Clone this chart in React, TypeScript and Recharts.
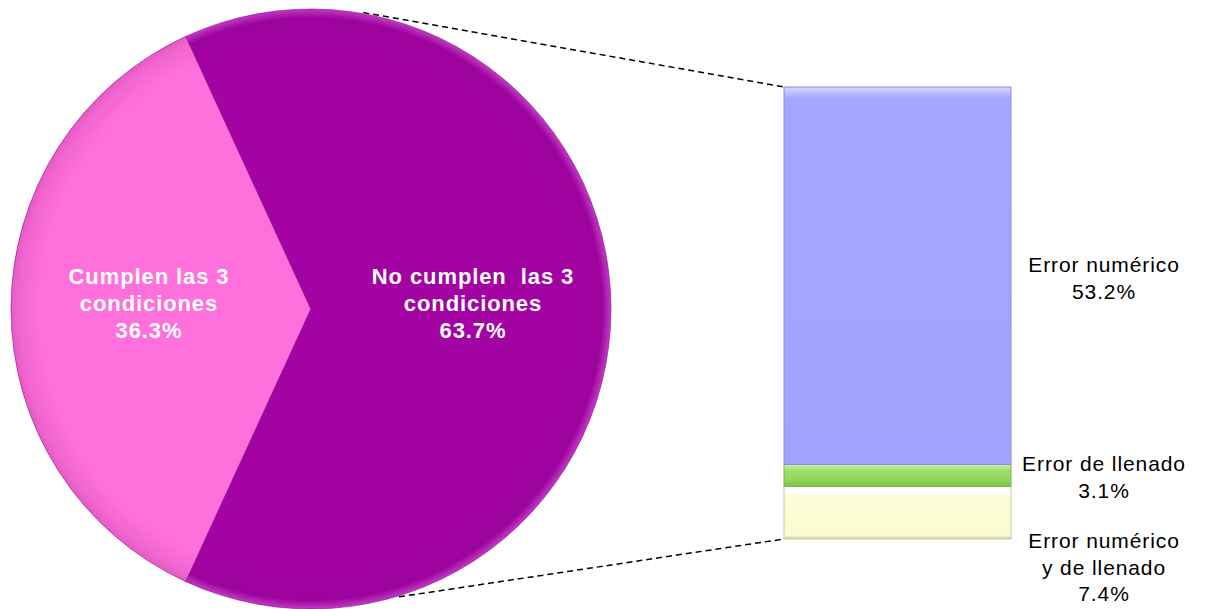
import { PieChart, Pie, Cell, BarChart, Bar, XAxis, YAxis, LabelList } from 'recharts';

// pie: share of records meeting the 3 conditions
const pieNames = ['Cumplen las 3 condiciones', 'No cumplen las 3 condiciones'];
const pieValues = [36.3, 63.7];
const pieLabelLines = [
  ['Cumplen las 3', 'condiciones'],
  ['No cumplen  las 3', 'condiciones'],
];

// bar: breakdown of "No cumplen", bottom to top
const barKeys = ['mixto', 'llenado', 'numerico'];
const barNames = ['Error numérico y de llenado', 'Error de llenado', 'Error numérico'];
const barValues = [7.4, 3.1, 53.2];
const barLabelLines = [['Error numérico', 'y de llenado'], ['Error de llenado'], ['Error numérico']];

const pieData = pieNames.map((name, i) => ({ name, value: pieValues[i] }));
const barRow: Record<string, number | string> = { name: 'No cumplen' };
barKeys.forEach((k, i) => (barRow[k] = barValues[i]));
const barData = [barRow];
const barTotal = barValues.reduce((a, b) => a + b, 0);

const W = 1207;
const H = 609;
const PIE_CX = 311;
const PIE_CY = 309;
const PIE_R = 300;
const BAR_LEFT = 784;
const BAR_RIGHT = 1011;
const BAR_TOP = 87;
const BAR_BOTTOM = 539;
const BAR_CHART_X = 700;
const FONT = '"Liberation Sans", Arial, sans-serif';

const pieColors = ['url(#gPink)', 'url(#gPurple)'];
const barFills = ['url(#gYellow)', 'url(#gGreen)', 'url(#gBlue)'];
const barStrokes = ['#c9c9a0', '#7cb548', '#8a8ae0'];
// Excel nudged the bottom label down to clear the one above it
const labelShift = [55, 2, 3];

// pie starts so the small slice is centred on the left
const pinkSweep = (pieValues[0] / (pieValues[0] + pieValues[1])) * 360;
const startAngle = 180 - pinkSweep / 2;

const rad = Math.PI / 180;
const edge = (deg: number, r: number) => ({
  x: PIE_CX + r * Math.cos(deg * rad),
  y: PIE_CY - r * Math.sin(deg * rad),
});

function PieLabel(props: any) {
  const { cx, cy, midAngle, outerRadius, index, value } = props;
  const r = outerRadius * 0.54;
  const x = cx + r * Math.cos(-midAngle * rad);
  const y = cy + r * Math.sin(-midAngle * rad) + 2;
  const lines = [...pieLabelLines[index], `${value.toFixed(1)}%`];
  return (
    <text
      x={x}
      y={y}
      textAnchor="middle"
      fill="#fff"
      fontFamily={FONT}
      fontSize={22}
      fontWeight="bold"
      letterSpacing={0.9}
      style={{ whiteSpace: 'pre' }}
    >
      {lines.map((l, i) => (
        <tspan key={i} x={x} y={y + (i - 1) * 27}>
          {l}
        </tspan>
      ))}
    </text>
  );
}

function makeBarLabel(idx: number) {
  return (props: any) => {
    const { x, y, width, height, value } = props;
    const lines = [...barLabelLines[idx], `${Number(value).toFixed(1)}%`];
    const tx = x + width + 93;
    const mid = y + height / 2 + labelShift[idx];
    const first = mid - ((lines.length - 1) * 26.5) / 2 + 7;
    return (
      <text textAnchor="middle" fill="#000" fontFamily={FONT} fontSize={21} letterSpacing={0.9}>
        {lines.map((l, i) => (
          <tspan key={i} x={tx} y={first + i * 26.5}>
            {l}
          </tspan>
        ))}
      </text>
    );
  };
}

export default function App() {
  const topA = edge(80, PIE_R + 1);
  const botA = edge(-73, PIE_R + 1);
  return (
    <div style={{ position: 'absolute', left: 0, top: 0, width: W, height: H, background: '#fff' }}>
      <svg width={W} height={H} style={{ position: 'absolute', left: 0, top: 0 }}>
        <line x1={topA.x} y1={topA.y} x2={BAR_LEFT} y2={BAR_TOP} stroke="#000" strokeWidth={1.5} strokeDasharray="6 4" />
        <line x1={botA.x} y1={botA.y} x2={BAR_LEFT} y2={BAR_BOTTOM} stroke="#000" strokeWidth={1.5} strokeDasharray="6 4" />
      </svg>

      <div style={{ position: 'absolute', left: 0, top: 0 }}>
        <PieChart width={640} height={H} margin={{ top: 0, right: 0, bottom: 0, left: 0 }}>
          <defs>
            <radialGradient id="gPink" cx={PIE_CX} cy={PIE_CY} r={PIE_R} gradientUnits="userSpaceOnUse">
              <stop offset="0.9" stopColor="#ff70dc" />
              <stop offset="0.97" stopColor="#f266d2" />
              <stop offset="1" stopColor="#e55ac4" />
            </radialGradient>
            <radialGradient id="gPurple" cx={PIE_CX} cy={PIE_CY} r={PIE_R} gradientUnits="userSpaceOnUse">
              <stop offset="0.9" stopColor="#a203a2" />
              <stop offset="0.97" stopColor="#9c039c" />
              <stop offset="1" stopColor="#c03cc4" />
            </radialGradient>
          </defs>
          <Pie
            data={pieData}
            dataKey="value"
            nameKey="name"
            cx={PIE_CX}
            cy={PIE_CY}
            outerRadius={PIE_R}
            startAngle={startAngle}
            endAngle={startAngle + 360}
            stroke="#8a0a8a"
            strokeWidth={0.6}
            label={PieLabel}
            labelLine={false}
            isAnimationActive={false}
          >
            {pieData.map((d, i) => (
              <Cell key={d.name} fill={pieColors[i]} />
            ))}
          </Pie>
        </PieChart>
      </div>

      <div style={{ position: 'absolute', left: BAR_CHART_X, top: 0 }}>
        <BarChart
          width={W - BAR_CHART_X}
          height={H}
          data={barData}
          barCategoryGap={0}
          margin={{ top: BAR_TOP, bottom: H - BAR_BOTTOM, left: BAR_LEFT - BAR_CHART_X, right: W - BAR_RIGHT }}
        >
          <defs>
            <linearGradient id="gBlue" x1="0" y1="0" x2="0" y2="1">
              <stop offset="0" stopColor="#d8d8ff" />
              <stop offset="0.03" stopColor="#a6a6ff" />
              <stop offset="1" stopColor="#a3a3ff" />
            </linearGradient>
            <linearGradient id="gGreen" x1="0" y1="0" x2="0" y2="1">
              <stop offset="0" stopColor="#c8f0a0" />
              <stop offset="0.3" stopColor="#9ede6a" />
              <stop offset="0.75" stopColor="#92d35c" />
              <stop offset="1" stopColor="#7fbf4c" />
            </linearGradient>
            <linearGradient id="gYellow" x1="0" y1="0" x2="0" y2="1">
              <stop offset="0" stopColor="#ffffff" />
              <stop offset="0.12" stopColor="#ffffff" />
              <stop offset="0.2" stopColor="#fdfdd8" />
              <stop offset="0.93" stopColor="#fbfbd2" />
              <stop offset="1" stopColor="#cfcfa8" />
            </linearGradient>
          </defs>
          <XAxis dataKey="name" hide />
          <YAxis hide domain={[0, barTotal]} />
          {barKeys.map((k, i) => (
            <Bar
              key={k}
              dataKey={k}
              name={barNames[i]}
              stackId="a"
              fill={barFills[i]}
              stroke={barStrokes[i]}
              strokeWidth={1}
              isAnimationActive={false}
            >
              <LabelList dataKey={k} content={makeBarLabel(i)} />
            </Bar>
          ))}
        </BarChart>
      </div>
    </div>
  );
}
